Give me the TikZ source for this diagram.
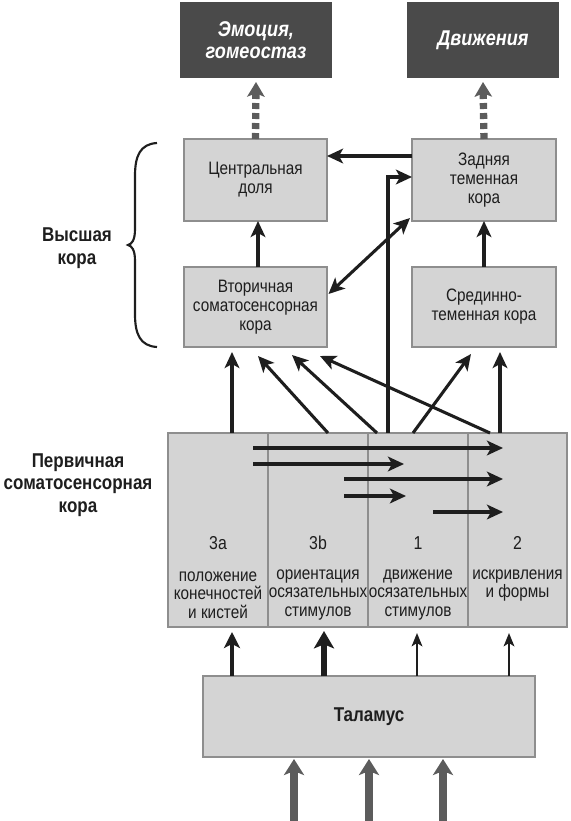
\documentclass[tikz,border=0pt]{standalone}
\usepackage{fontspec}
\setmainfont{Liberation Sans}[FakeStretch=0.85]
\usetikzlibrary{arrows.meta,calc}
\definecolor{boxfill}{HTML}{D4D4D4}
\definecolor{boxline}{HTML}{8E8E8E}
\definecolor{darkfill}{HTML}{4A4A4A}
\definecolor{grayarrow}{HTML}{5C5C5C}
\definecolor{ink}{HTML}{1E1E1E}
\begin{document}
\begin{tikzpicture}[x=0.75pt,y=-0.75pt,
  box/.style={draw=boxline,fill=boxfill,line width=2pt,inner sep=0pt,outer sep=0pt,
    align=center,text=ink,font=\fontsize{13.5}{14.2}\selectfont},
  dbox/.style={fill=darkfill,inner sep=0pt,outer sep=0pt,align=center,text=white,
    font=\fontsize{16}{16}\selectfont\bfseries\itshape},
  lbl/.style={inner sep=0pt,align=center,text=ink,font=\fontsize{13.5}{14}\selectfont},
  blbl/.style={inner sep=0pt,align=center,text=ink,font=\fontsize{15}{17}\selectfont\bfseries},
  arr/.style={line width=2.3pt,draw=ink,-{Stealth[length=12pt,width=11pt,inset=3pt]}},
  upthin/.style={line width=1.6pt,draw=ink,-{Stealth[length=10pt,width=8pt,inset=2.5pt]}},
  upmid/.style={line width=2.8pt,draw=ink,-{Stealth[length=12pt,width=12pt,inset=3pt]}},
  upthick/.style={line width=5pt,draw=ink,-{Stealth[length=13pt,width=15pt,inset=3pt]}},
  inarr/.style={line width=6pt,draw=grayarrow,-{Stealth[length=12pt,width=15pt,inset=3pt]}},
  dasharr/.style={line width=5.5pt,draw=grayarrow,dash pattern=on 4.5pt off 3pt,
    -{Stealth[length=11pt,width=13pt,inset=2.5pt]}},
]
\useasboundingbox (0,0) rectangle (571,821);

% top dark boxes
\node[dbox,minimum width=152*0.75pt,minimum height=76*0.75pt] (emo) at (256,40) {Эмоция,\\гомеостаз};
\node[dbox,minimum width=152*0.75pt,minimum height=76*0.75pt] (mov) at (483,40) {Движения};

% higher cortex boxes
\node[box,minimum width=143*0.75pt,minimum height=82*0.75pt] (cent) at (255.5,180) {Центральная\\доля};
\node[box,minimum width=144*0.75pt,minimum height=82*0.75pt] (post) at (484,180) {Задняя\\теменная\\кора};
\node[box,minimum width=143*0.75pt,minimum height=80*0.75pt] (sec) at (255.5,307) {Вторичная\\соматосенсорная\\кора};
\node[box,minimum width=144*0.75pt,minimum height=80*0.75pt] (mid) at (484,307) {Срединно-\\теменная кора};

% primary cortex columns
\node[box,minimum width=100*0.75pt,minimum height=194*0.75pt] (c3a) at (218,530) {};
\node[box,minimum width=100*0.75pt,minimum height=194*0.75pt] (c3b) at (318,530) {};
\node[box,minimum width=100*0.75pt,minimum height=194*0.75pt] (c1) at (418,530) {};
\node[box,minimum width=99*0.75pt,minimum height=194*0.75pt] (c2) at (517.5,530) {};

\node[lbl,font=\fontsize{14}{14}\selectfont] (n3a) at (218,543) {3a};
\node[lbl,font=\fontsize{14}{14}\selectfont] (n3b) at (318,543) {3b};
\node[lbl,font=\fontsize{14}{14}\selectfont] (n1) at (418,543) {1};
\node[lbl,font=\fontsize{14}{14}\selectfont] (n2) at (517.5,543) {2};
\node[lbl] (d3a) at (218,595) {положение\\конечностей\\и кистей};
\node[lbl] (d3b) at (318,595) {ориентация\\осязательных\\стимулов};
\node[lbl] (d1) at (418,595) {движение\\осязательных\\стимулов};
\node[lbl] (d2) at (517.5,585.5) {искривления\\и формы};

% thalamus
\node[box,minimum width=332*0.75pt,minimum height=81*0.75pt,font=\fontsize{15}{17}\selectfont\bfseries] (thal) at (369,716.5) {Таламус};

% left labels
\node[blbl] (high) at (77,248) {Высшая\\кора};
\node[blbl] (prim) at (78,485) {Первичная\\соматосенсорная\\кора};

% brace
\draw[ink,line width=1.6pt] (157,143) .. controls (140,144) and (135,156) .. (135,176)
  -- (135,229) .. controls (135,240) and (132,244) .. (128,245)
  .. controls (132,246) and (135,250) .. (135,261)
  -- (135,314) .. controls (135,334) and (140,346) .. (157,347);

% dashed outputs
\draw[dasharr] (cent.north) -- ($(emo.south)+(0,4)$);
\draw[dasharr] (post.north) -- ($(mov.south)+(0,4)$);

% higher cortex connections
\draw[arr] ($(sec.north)+(2.5,0)$) -- ($(cent.south)+(2.5,0)$);
\draw[arr] (mid.north) -- (post.south);
\draw[arr] ($(post.west)+(0,-24)$) -- ($(cent.east)+(0,-24)$);
\draw[arr] ($(c1.north)+(-30,0)$) |- ($(post.west)+(0,-3)$);
\draw[line width=2.3pt,draw=ink,{Stealth[length=12pt,width=11pt,inset=3pt]}-{Stealth[length=12pt,width=11pt,inset=3pt]}]
  ($(sec.east)+(1.5,-13)$) -- ($(post.south west)+(-2,-3)$);

% primary to higher
\draw[arr] ($(c3a.north)+(14,0)$) -- ($(sec.south)+(-23.5,5)$);
\draw[arr] ($(c3b.north)+(10,0)$) -- ($(sec.south)+(2.5,9)$);
\draw[arr] ($(c1.north)+(-41,0)$) -- ($(sec.south)+(36.5,8)$);
\draw[arr] ($(c2.north)+(-27.5,0)$) -- ($(sec.south)+(64.5,9)$);
\draw[arr] ($(c1.north)+(-5,0)$) -- ($(mid.south)+(-13,7)$);
\draw[arr] ($(c2.north)+(-17.5,0)$) -- ($(mid.south)+(16,5)$);

% within primary
\draw[arr] ($(c3a.north)+(35,15)$) -- ($(c2.north)+(-14.5,15)$);
\draw[arr] ($(c3a.north)+(35,31)$) -- ($(c1.north)+(-14,31)$);
\draw[arr] ($(c3b.north)+(26,46)$) -- ($(c2.north)+(-14.5,46)$);
\draw[arr] ($(c3b.north)+(26,63)$) -- ($(c1.north)+(-12,63)$);
\draw[arr] ($(c1.north)+(15,79)$) -- ($(c2.north)+(-14.5,79)$);

% thalamus to primary
\draw[upmid] ($(thal.north)+(-137,0)$) -- ($(c3a.south)+(14,5)$);
\draw[upthick] ($(thal.north)+(-45,0)$) -- ($(c3b.south)+(6,4)$);
\draw[upthin] ($(thal.north)+(48,0)$) -- ($(c1.south)+(-1,6)$);
\draw[upthin] ($(thal.north)+(140,0)$) -- ($(c2.south)+(-8.5,6)$);

% inputs to thalamus
\coordinate (in1) at (294,822);
\coordinate (in2) at (369,822);
\coordinate (in3) at (443,822);
\draw[inarr] (in1) -- ($(thal.south)+(-75,2)$);
\draw[inarr] (in2) -- ($(thal.south)+(0,2)$);
\draw[inarr] (in3) -- ($(thal.south)+(74,2)$);
\end{tikzpicture}
\end{document}
